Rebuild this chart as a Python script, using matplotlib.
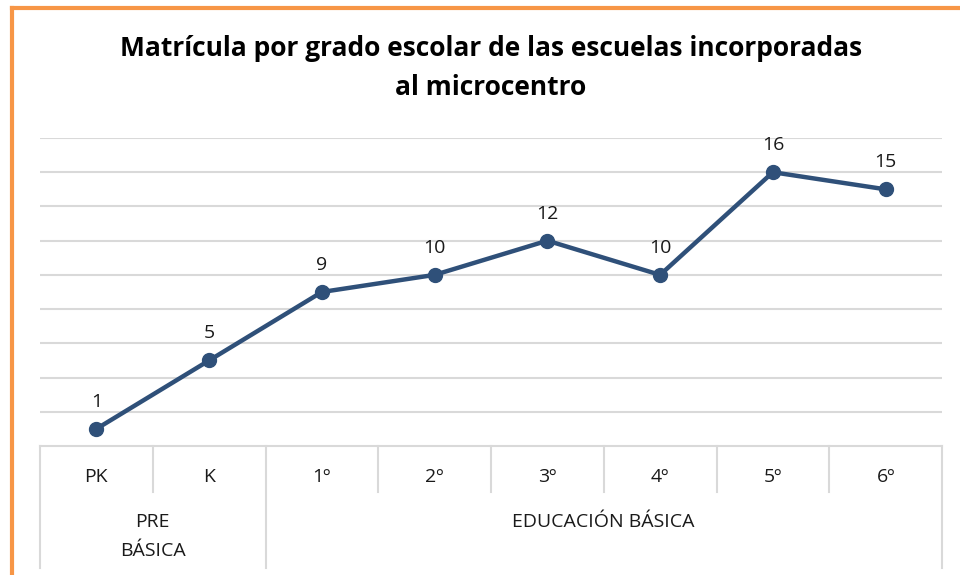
import matplotlib.pyplot as plt
from matplotlib.lines import Line2D

# Data
grados = ['PK', 'K', '1º', '2º', '3º', '4º', '5º', '6º']
matricula = [1, 5, 9, 10, 12, 10, 16, 15]
grupos = ['PRE\nBÁSICA', 'EDUCACIÓN BÁSICA']
grupo_tamano = [2, 6]

plt.rcParams['font.family'] = ['Open Sans', 'DejaVu Sans']

W, H = 960, 575
fig = plt.figure(figsize=(W / 100, H / 100), dpi=100)
ax = fig.add_axes([40 / W, 1 - 446 / H, 902 / W, 308 / H])

line_color = '#2F5079'
grid_color = '#D9D9D9'
text_color = '#1A1A1A'
x = list(range(len(grados)))

ax.plot(x, matricula, color=line_color, lw=3.2, marker='o', markersize=10, zorder=3)
for xi, v in zip(x, matricula):
    ax.annotate(str(v), (xi, v), xytext=(0, 13), textcoords='offset points',
                ha='center', va='bottom', fontsize=14, color=text_color)

ax.set_xlim(-0.5, len(grados) - 0.5)
ax.set_ylim(0, 18)
ax.set_yticks(range(2, 19, 2))
ax.yaxis.grid(True, color=grid_color, lw=1.5)
ax.set_axisbelow(True)
ax.tick_params(left=False, labelleft=False, bottom=False, labelbottom=False)
for s in ['top', 'right', 'left']:
    ax.spines[s].set_visible(False)
ax.spines['bottom'].set_color(grid_color)
ax.spines['bottom'].set_linewidth(1.5)

# multi-level category axis
trans = ax.get_xaxis_transform()
y_row1 = -46 / 308
y_row2 = -122 / 308
for i, g in enumerate(grados):
    ax.text(i, -31 / 308, g, transform=trans, ha='center', va='center', fontsize=14, color=text_color)

start = 0
bounds = [-0.5]
for nombre, n in zip(grupos, grupo_tamano):
    centro = start + (n - 1) / 2
    ax.text(centro, -67 / 308, nombre, transform=trans, ha='center', va='top',
            fontsize=14, color=text_color, linespacing=1.75)
    for k in range(1, n):
        xs = start + k - 0.5
        ax.add_line(Line2D([xs, xs], [0, y_row1], transform=trans, color=grid_color, lw=1.5, clip_on=False))
    start += n
    bounds.append(start - 0.5)
for b in bounds:
    ax.add_line(Line2D([b, b], [0, y_row2], transform=trans, color=grid_color, lw=1.5, clip_on=False))

fig.text(491 / W, 1 - 68 / H, 'Matrícula por grado escolar de las escuelas incorporadas\nal microcentro',
         ha='center', va='center', fontsize=19, fontweight='bold', linespacing=1.6)

# orange border
orange = '#F79646'
fig.add_artist(Line2D([12 / W, 12 / W], [0, 1 - 8 / H], color=orange, lw=3))
fig.add_artist(Line2D([12 / W, 1], [1 - 8 / H, 1 - 8 / H], color=orange, lw=3))

fig.savefig('out.png', dpi=100)
